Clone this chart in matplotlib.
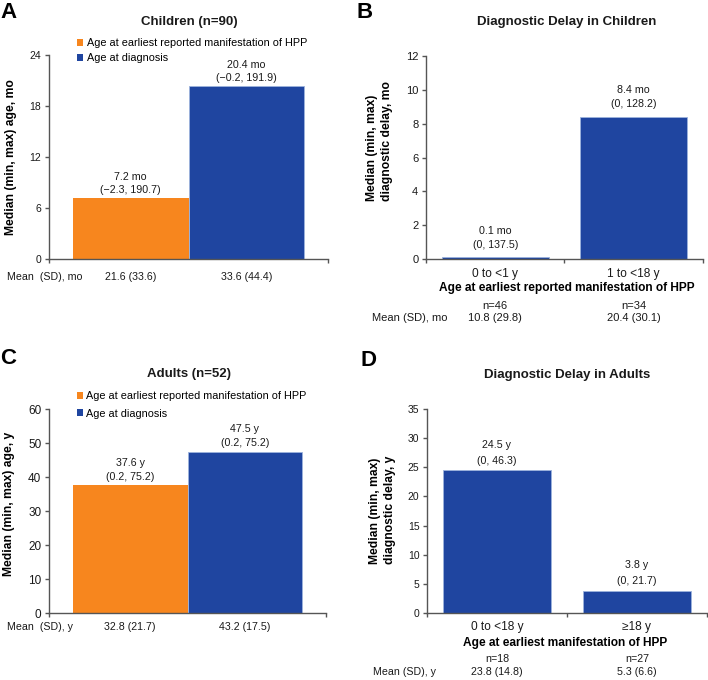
import matplotlib.pyplot as plt
from matplotlib.patches import Patch

plt.rcParams['font.family'] = ['Liberation Sans', 'DejaVu Sans']

# ---- data ----
series_labels = ['Age at earliest reported manifestation of HPP', 'Age at diagnosis']

children_median = [7.2, 20.4]
children_min = [-2.3, -0.2]
children_max = [190.7, 191.9]
children_mean = [21.6, 33.6]
children_sd = [33.6, 44.4]

child_delay_groups = ['0 to <1 y', '1 to <18 y']
child_delay_median = [0.1, 8.4]
child_delay_min = [0, 0]
child_delay_max = [137.5, 128.2]
child_delay_n = [46, 34]
child_delay_mean = [10.8, 20.4]
child_delay_sd = [29.8, 30.1]

adults_median = [37.6, 47.5]
adults_min = [0.2, 0.2]
adults_max = [75.2, 75.2]
adults_mean = [32.8, 43.2]
adults_sd = [21.7, 17.5]

adult_delay_groups = ['0 to <18 y', '\u226518 y']
adult_delay_median = [24.5, 3.8]
adult_delay_min = [0, 0]
adult_delay_max = [46.3, 21.7]
adult_delay_n = [18, 27]
adult_delay_mean = [23.8, 5.3]
adult_delay_sd = [14.8, 6.6]

ORANGE = '#F7861E'
BLUE = '#1F45A0'
AXIS = '#555555'
TXT = '#1a1a1a'

W, H = 708, 680
fig = plt.figure(figsize=(W / 100, H / 100), dpi=100)


def box(l, t, r, b):
    return [l / W, 1 - b / H, (r - l) / W, (b - t) / H]


def fmt(v):
    return f'{v:g}'.replace('-', '\u2212')


def ftext(x, y, s, **kw):
    fig.text(x / W, 1 - y / H, s, va='center', color=TXT, **kw)


def style(ax, ylim, yticks, ysize, minor_x):
    for s in ('top', 'right'):
        ax.spines[s].set_visible(False)
    for s in ('left', 'bottom'):
        ax.spines[s].set_color(AXIS)
        ax.spines[s].set_linewidth(1)
    ax.set_ylim(*ylim)
    ax.set_yticks(yticks)
    ax.set_xlim(minor_x[0], minor_x[-1])
    ax.set_xticks(minor_x, minor=True)
    ax.tick_params(axis='y', direction='out', length=3, width=1, color=AXIS,
                   labelsize=ysize, pad=2.5, labelcolor=TXT)
    ax.tick_params(axis='x', which='major', length=0)
    ax.tick_params(axis='x', which='minor', direction='out', length=3,
                   width=1, color=AXIS)


def bar_labels(ax, xs, med, mins, maxs, unit, off1, off2, size):
    for x, m, lo, hi in zip(xs, med, mins, maxs):
        ax.annotate(f'{fmt(m)} {unit}', xy=(x, m), xytext=(0, off1),
                    textcoords='offset pixels', ha='center', va='center',
                    fontsize=size, color=TXT)
        ax.annotate(f'({fmt(lo)}, {fmt(hi)})', xy=(x, m), xytext=(0, off2),
                    textcoords='offset pixels', ha='center', va='center',
                    fontsize=size, color=TXT)


def row(ax, xs, texts, below, size):
    for x, s in zip(xs, texts):
        ax.annotate(s, xy=(x, 0), xycoords=('data', 'axes fraction'),
                    xytext=(0, -below), textcoords='offset pixels',
                    ha='center', va='center', fontsize=size, color=TXT)


def legend(ax, y_anchor, spacing):
    handles = [Patch(facecolor=c, edgecolor='none') for c in (ORANGE, BLUE)]
    ax.legend(handles, series_labels, loc='upper left',
              bbox_to_anchor=(0.10, y_anchor), frameon=False, fontsize=7.8,
              handlelength=0.6, handleheight=0.6, handletextpad=0.3,
              labelspacing=spacing, borderpad=0, borderaxespad=0)


pair_x = [-0.2075, 0.2075]
group_x = [0, 1]

# ---- A: children ----
axA = fig.add_axes(box(49, 55, 328, 259))
axA.bar(pair_x, children_median, width=0.415, color=[ORANGE, BLUE],
        edgecolor=['none', '#9DB3DD'], linewidth=0.6)
style(axA, (0, 24), range(0, 25, 6), 7.5, [-0.5, 0.5])
axA.set_xticks([])
axA.set_ylabel('Median (min, max) age, mo', fontsize=8.7, fontweight='bold')
axA.yaxis.set_label_coords(-0.115, 0.5)
bar_labels(axA, pair_x, children_median, children_min, children_max, 'mo', 21, 8, 7.7)
row(axA, pair_x, [f'{m} ({s})' for m, s in zip(children_mean, children_sd)], 18, 7.7)
legend(axA, 1.083, 0.5)
ftext(7, 277, 'Mean  (SD), mo', ha='left', fontsize=7.7)
ftext(189, 22, 'Children (n=90)', ha='center', fontsize=9.5, fontweight='bold')
fig.text(0.0, 1 - 2 / H, 'A', ha='left', va='top', fontsize=16, fontweight='bold')

# ---- B: diagnostic delay in children ----
axB = fig.add_axes(box(426, 56, 703, 259))
axB.bar(group_x, child_delay_median, width=0.77, color=BLUE,
        edgecolor='#9DB3DD', linewidth=0.6)
style(axB, (0, 12), range(0, 13, 2), 8, [-0.5, 0.5, 1.5])
axB.set_xticks(group_x, child_delay_groups)
axB.tick_params(axis='x', which='major', labelsize=8.6, pad=6.5, labelcolor=TXT)
axB.set_ylabel('Median (min, max)\ndiagnostic delay, mo', fontsize=8.7,
               fontweight='bold', multialignment='left', linespacing=1.35)
axB.yaxis.set_label_coords(-0.12, 0.58)
axB.set_xlabel('Age at earliest reported manifestation of HPP', fontsize=8.6,
               fontweight='bold')
axB.xaxis.set_label_coords(0.509, -23 / 203)
bar_labels(axB, group_x, child_delay_median, child_delay_min, child_delay_max,
           'mo', 26.5, 12.5, 7.7)
row(axB, group_x, [f'n={n}' for n in child_delay_n], 47, 8)
row(axB, group_x, [f'{m} ({s})' for m, s in zip(child_delay_mean, child_delay_sd)], 59, 8)
ftext(372, 318, 'Mean (SD), mo', ha='left', fontsize=8)
ftext(567, 22, 'Diagnostic Delay in Children', ha='center', fontsize=9.5,
      fontweight='bold')
fig.text(356 / W, 1 - 2 / H, 'B', ha='left', va='top', fontsize=16, fontweight='bold')

# ---- C: adults ----
axC = fig.add_axes(box(49, 409, 326, 613))
axC.bar(pair_x, adults_median, width=0.415, color=[ORANGE, BLUE],
        edgecolor=['none', '#9DB3DD'], linewidth=0.6)
style(axC, (0, 60), range(0, 61, 10), 8.5, [-0.5, 0.5])
axC.set_xticks([])
axC.set_ylabel('Median (min, max) age, y', fontsize=8.7, fontweight='bold')
axC.yaxis.set_label_coords(-0.123, 0.534)
bar_labels(axC, pair_x, adults_median, adults_min, adults_max, 'y', 22, 8, 7.7)
row(axC, pair_x, [f'{m} ({s})' for m, s in zip(adults_mean, adults_sd)], 14, 7.7)
legend(axC, 1.088, 0.7)
ftext(7, 627, 'Mean  (SD), y', ha='left', fontsize=7.7)
ftext(189, 374, 'Adults (n=52)', ha='center', fontsize=9.5, fontweight='bold')
fig.text(0.0, 1 - 348 / H, 'C', ha='left', va='top', fontsize=16, fontweight='bold')

# ---- D: diagnostic delay in adults ----
axD = fig.add_axes(box(427, 409, 707, 613))
axD.bar(group_x, adult_delay_median, width=0.77, color=BLUE,
        edgecolor='#9DB3DD', linewidth=0.6)
style(axD, (0, 35), range(0, 36, 5), 7.5, [-0.5, 0.5, 1.5])
axD.set_xticks(group_x, adult_delay_groups)
axD.tick_params(axis='x', which='major', labelsize=8.6, pad=5.5, labelcolor=TXT)
axD.set_ylabel('Median (min, max)\ndiagnostic delay, y', fontsize=8.7,
               fontweight='bold', multialignment='left', linespacing=1.35)
axD.yaxis.set_label_coords(-0.11, 0.505)
axD.set_xlabel('Age at earliest manifestation of HPP', fontsize=8.6,
               fontweight='bold')
axD.xaxis.set_label_coords(0.493, -24 / 204)
bar_labels(axD, group_x, adult_delay_median, adult_delay_min, adult_delay_max,
           'y', 25.5, 9.5, 7.7)
row(axD, group_x, [f'n={n}' for n in adult_delay_n], 46, 7.7)
row(axD, group_x, [f'{m} ({s})' for m, s in zip(adult_delay_mean, adult_delay_sd)], 59, 7.7)
ftext(373, 672, 'Mean (SD), y', ha='left', fontsize=7.7)
ftext(567, 375, 'Diagnostic Delay in Adults', ha='center', fontsize=9.5,
      fontweight='bold')
fig.text(360 / W, 1 - 350 / H, 'D', ha='left', va='top', fontsize=16, fontweight='bold')

fig.savefig('out.png', dpi=100)
